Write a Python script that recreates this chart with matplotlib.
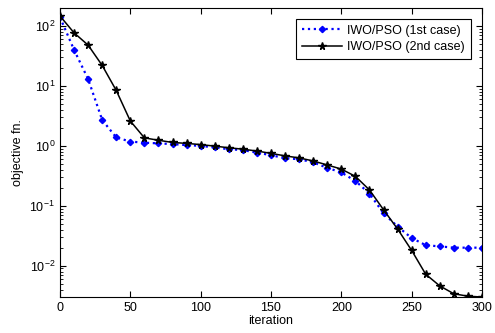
import numpy as np
import matplotlib
matplotlib.use("Agg")
import matplotlib.pyplot as plt
from matplotlib.ticker import LogLocator, FixedLocator

plt.rcParams['font.family'] = ['Liberation Sans', 'DejaVu Sans']

# --- Data ---
iteration = np.arange(0, 301, 10)

case1 = [140, 40, 13, 2.7, 1.38, 1.18, 1.13, 1.10, 1.07, 1.03,
         1.00, 0.94, 0.88, 0.85, 0.77, 0.70, 0.62, 0.60, 0.53, 0.43,
         0.36, 0.26, 0.16, 0.075, 0.045, 0.029, 0.022, 0.021, 0.020, 0.020,
         0.020]

case2 = [147, 77, 48, 22, 8.4, 2.6, 1.36, 1.24, 1.14, 1.10,
         1.05, 0.99, 0.93, 0.88, 0.82, 0.75, 0.68, 0.63, 0.56, 0.48,
         0.41, 0.31, 0.184, 0.086, 0.041, 0.018, 0.0072, 0.0046, 0.0034, 0.0031,
         0.0030]

labels = ["IWO/PSO (1st case)", "IWO/PSO (2nd case)"]
xticks = [0, 50, 100, 150, 200, 250, 300]

# --- Plot ---
fig = plt.figure(figsize=(4.95, 3.33), dpi=100)
ax = fig.add_axes([0.1212, 0.108, 0.8525, 0.868])

ax.semilogy(iteration, case1, color=(0, 0, 1), linestyle=':', linewidth=1.6,
            marker='D', markersize=3.2, markerfacecolor=(0, 0, 1),
            markeredgecolor=(0, 0, 1), label=labels[0])
ax.semilogy(iteration, case2, color='k', linestyle='-', linewidth=1.1,
            marker='*', markersize=5.5, markerfacecolor='k',
            markeredgecolor='k', label=labels[1])

ax.set_xlim(0, 300)
ax.set_ylim(0.003, 200)
ax.xaxis.set_major_locator(FixedLocator(xticks))
ax.yaxis.set_major_locator(LogLocator(base=10, numticks=10))
ax.yaxis.set_minor_locator(LogLocator(base=10, subs=np.arange(2, 10), numticks=10))

ax.tick_params(which='both', direction='in', top=True, right=True, labelsize=9)
ax.tick_params(which='major', length=4.5, width=0.8)
ax.tick_params(which='minor', length=2, width=0.6)
ax.tick_params(axis='x', which='minor', bottom=False, top=False)

ax.set_xlabel("iteration", fontsize=9, labelpad=1)
ax.set_ylabel("objective fn.", fontsize=9, labelpad=4)

leg = ax.legend(loc='upper right', fontsize=9, fancybox=False, framealpha=1,
                edgecolor='k', handlelength=3.2, borderpad=0.5,
                labelspacing=0.35, handletextpad=0.4,
                bbox_to_anchor=(0.988, 0.985))
leg.get_frame().set_linewidth(0.8)

fig.savefig("out.png", dpi=100)
